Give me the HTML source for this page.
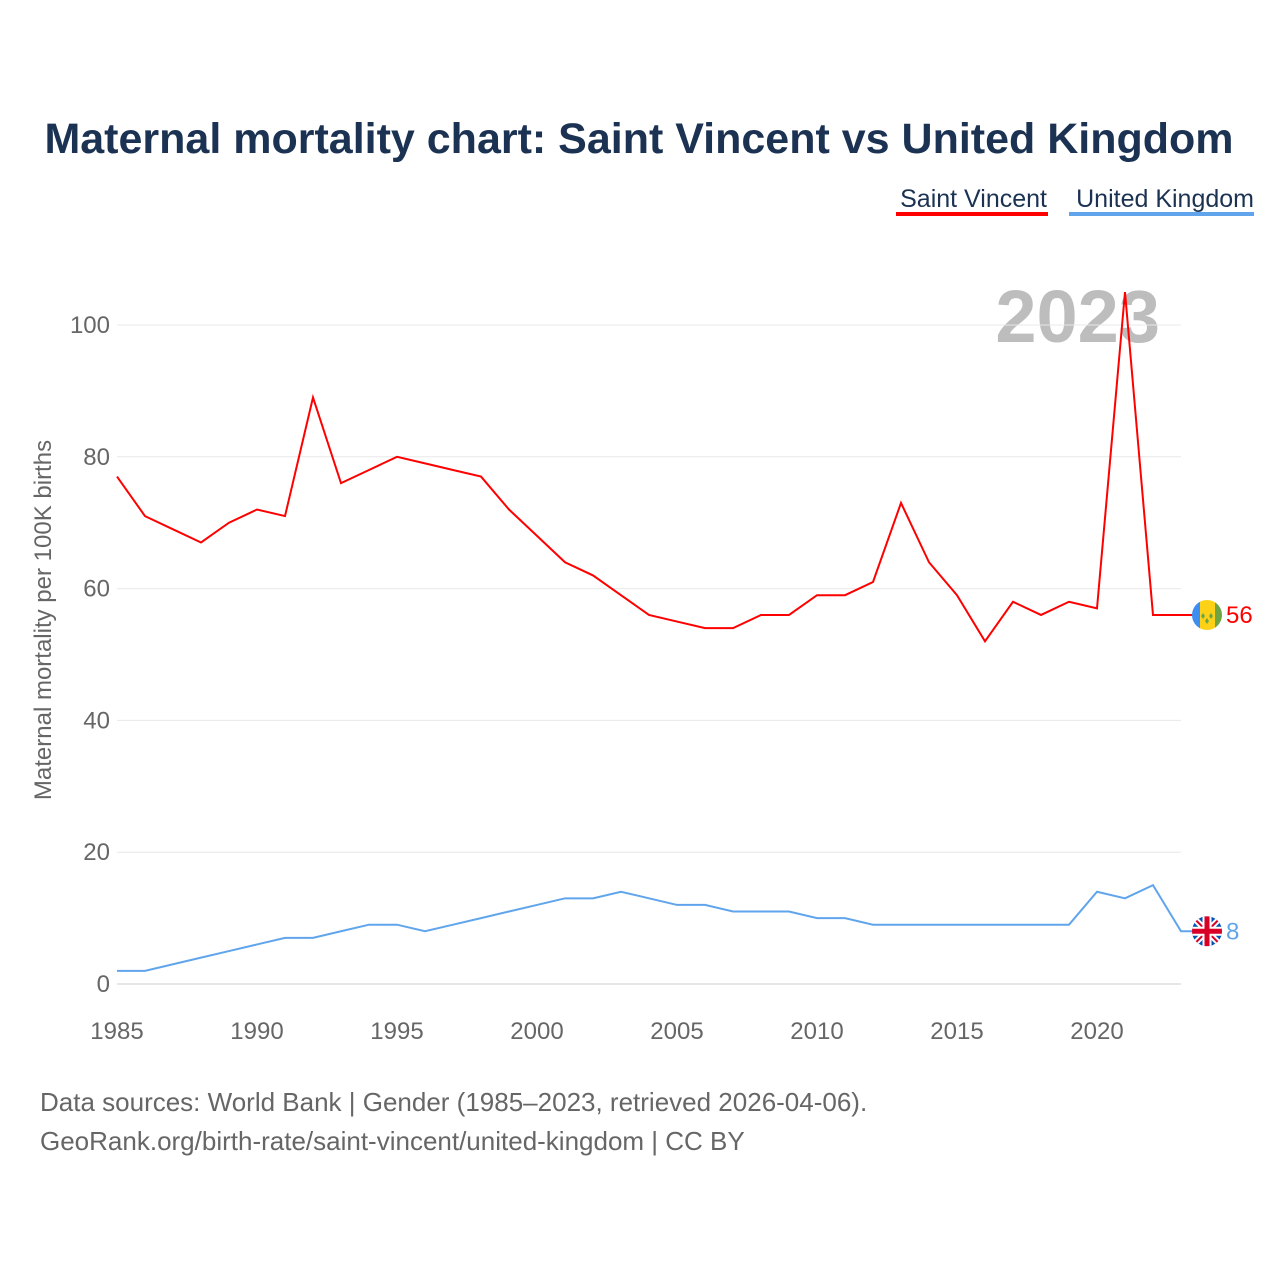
<!DOCTYPE html>
<html><head><meta charset="utf-8"><style>
body{margin:0;background:#fff;font-family:"Liberation Sans",sans-serif;}
#c{position:relative;width:1280px;height:1280px;}
</style></head><body>
<div id="c">
<svg id="s" width="1280" height="1280" style="font-family:'Liberation Sans',sans-serif">
<text x="639" y="153" text-anchor="middle" font-size="43" font-weight="bold" fill="#1b3253">Maternal mortality chart: Saint Vincent vs United Kingdom</text>
<g><text x="1047" y="207" text-anchor="end" font-size="25" fill="#1b3253">Saint Vincent</text><rect x="896" y="212" width="152" height="4" fill="#ff0000"/></g>
<g><text x="1254" y="207" text-anchor="end" font-size="25" fill="#1b3253">United Kingdom</text><rect x="1069" y="212" width="185" height="4" fill="#60a5ec"/></g>
<text x="1160" y="342" text-anchor="end" font-size="74" font-weight="bold" fill="#bdbdbd">2023</text>
<g id="grid"></g><g id="lines"></g>
<text transform="translate(51,620) rotate(-90)" text-anchor="middle" font-size="24" fill="#666">Maternal mortality per 100K births</text>
<text x="40" y="1111" font-size="26" fill="#666">Data sources: World Bank | Gender (1985–2023, retrieved 2026-04-06).</text>
<text x="40" y="1150" font-size="26" fill="#666">GeoRank.org/birth-rate/saint-vincent/united-kingdom | CC BY</text>
</svg></div>
<script>
const years=[];for(let y=1985;y<=2023;y++)years.push(y);
const saintVincent=[77,71,69,67,70,72,71,89,76,78,80,79,78,77,72,68,64,62,59,56,55,54,54,56,56,59,59,61,73,64,59,52,58,56,58,57,105,56,56];
const unitedKingdom=[2,2,3,4,5,6,7,7,8,9,9,8,9,10,11,12,13,13,14,13,12,12,11,11,11,10,10,9,9,9,9,9,9,9,9,14,13,15,8];
const yTicks=[0,20,40,60,80,100];
const xTicks=[1985,1990,1995,2000,2005,2010,2015,2020];
const NS="http://www.w3.org/2000/svg";
const xs=y=>117+(y-1985)*28, ys=v=>984-v*6.59;
function mk(t,a,p){const e=document.createElementNS(NS,t);for(const k in a)e.setAttribute(k,a[k]);p.appendChild(e);return e;}
const g=document.getElementById('grid'),L=document.getElementById('lines');
yTicks.forEach(v=>{const l=mk('line',{x1:117,x2:1181,y1:ys(v),y2:ys(v),stroke:v?'#e8e8e8':'#ccc','stroke-width':1},g);


const t=mk('text',{x:110,y:ys(v)+8,'text-anchor':'end','font-size':24,fill:'#666'},g);t.textContent=v;

});
xTicks.forEach(y=>{const t=mk('text',{x:xs(y),y:1039,'text-anchor':'middle','font-size':24,fill:'#666'},g);t.textContent=y;

});
function series(vals,col,name){const d=vals.map((v,i)=>(i?'L':'M')+xs(years[i])+','+ys(v)).join('');
const p=mk('path',{d:d+'L1195,'+ys(vals[vals.length-1]),fill:'none',stroke:col,'stroke-width':2},L);


const last=vals[vals.length-1],cy=ys(last);
const t=mk('text',{x:1226,y:cy+8,'font-size':24,fill:col},L);t.textContent=last;


return cy;}
const c1=series(saintVincent,'#ff0000','saint-vincent');
const c2=series(unitedKingdom,'#60a5ec','united-kingdom');
let f=mk('g',{},L);
const cp1=mk('clipPath',{id:'cp1'},f);mk('circle',{cx:1207,cy:c1,r:15},cp1);
const g1=mk('g',{'clip-path':'url(#cp1)'},f);
mk('rect',{x:1192,y:c1-15,width:8,height:30,fill:'#3d8ef0'},g1);
mk('rect',{x:1200,y:c1-15,width:15,height:30,fill:'#fcd116'},g1);
mk('rect',{x:1215,y:c1-15,width:8,height:30,fill:'#6da544'},g1);
mk('path',{d:`M1203,${c1-2}l2,3l-2,3l-2,-3zM1211,${c1-2}l2,3l-2,3l-2,-3zM1207,${c1+3}l2,3l-2,3l-2,-3z`,fill:'#6da544'},g1);
f=mk('g',{},L);
const cp=mk('clipPath',{id:'cp2'},f);mk('circle',{cx:1207,cy:c2,r:15},cp);
const g2=mk('g',{'clip-path':'url(#cp2)'},f);
mk('rect',{x:1192,y:c2-15,width:30,height:30,fill:'#0052b4'},g2);
mk('path',{d:`M1192,${c2-15}L1222,${c2+15}M1222,${c2-15}L1192,${c2+15}`,stroke:'#fff','stroke-width':6},g2);
mk('path',{d:`M1192,${c2-15}L1222,${c2+15}M1222,${c2-15}L1192,${c2+15}`,stroke:'#d80027','stroke-width':2},g2);
mk('path',{d:`M1207,${c2-15}V${c2+15}M1192,${c2}H1222`,stroke:'#fff','stroke-width':9},g2);
mk('path',{d:`M1207,${c2-15}V${c2+15}M1192,${c2}H1222`,stroke:'#d80027','stroke-width':5},g2);
</script></body></html>
